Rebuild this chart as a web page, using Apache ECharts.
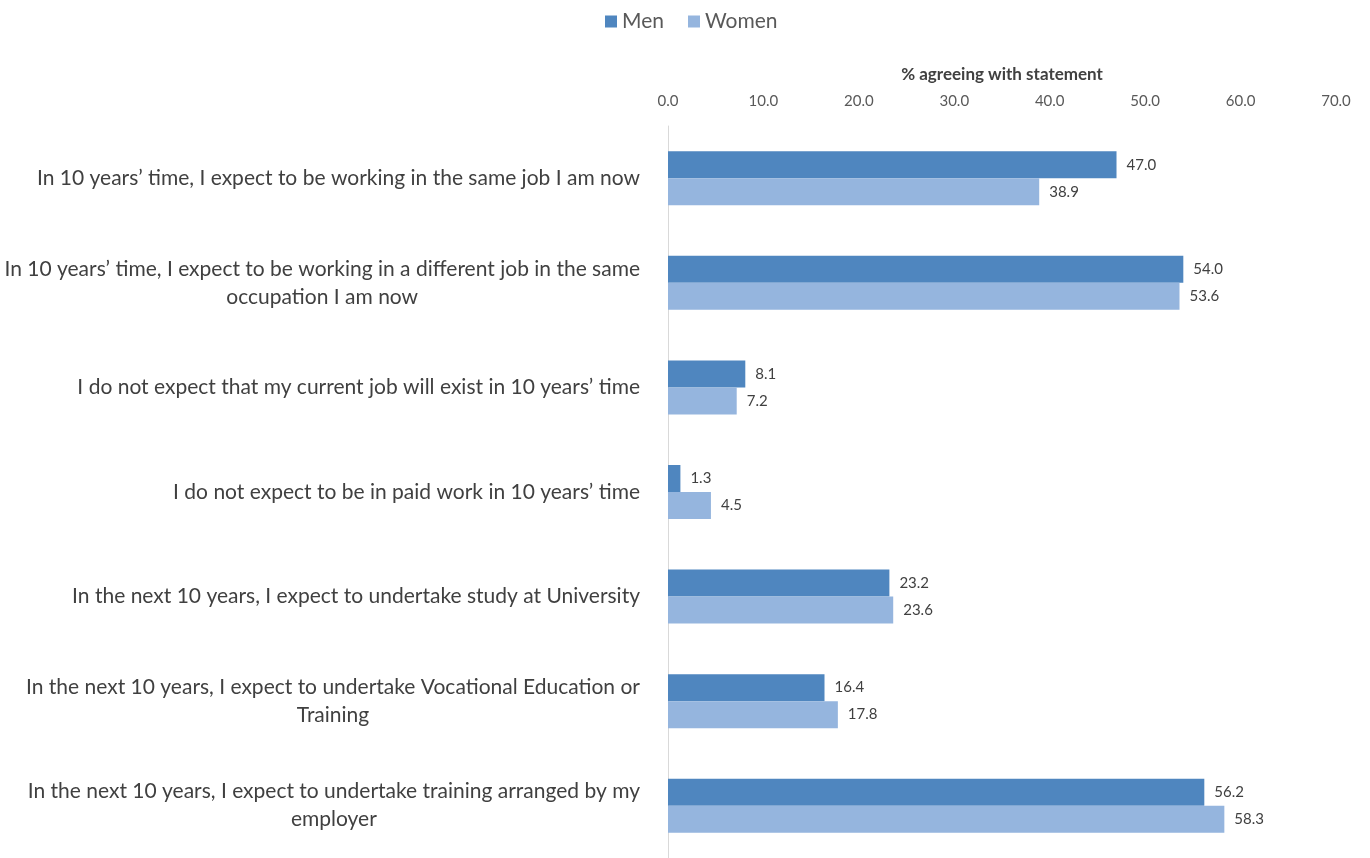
<!DOCTYPE html>
<html>
<head>
<meta charset="utf-8">
<style>
  html, body { margin: 0; padding: 0; background: #ffffff; }
  #chart { width: 1370px; height: 858px; }
</style>
<script src="https://cdn.jsdelivr.net/npm/echarts@6/dist/echarts.min.js"></script>
</head>
<body>
<div id="chart"></div>
<script>
// Survey statements (top to bottom)
const statements = [
  "In 10 years\u2019 time, I expect to be working in the same job I am now",
  "In 10 years\u2019 time, I expect to be working in a different job in the same\noccupation I am now",
  "I do not expect that my current job will exist in 10 years\u2019 time",
  "I do not expect to be in paid work in 10 years\u2019 time",
  "In the next 10 years, I expect to undertake study at University",
  "In the next 10 years, I expect to undertake Vocational Education or\nTraining",
  "In the next 10 years, I expect to undertake training arranged by my\nemployer"
];

// % agreeing with each statement
const men   = [47.0, 54.0, 8.1, 1.3, 23.2, 16.4, 56.2];
const women = [38.9, 53.6, 7.2, 4.5, 23.6, 17.8, 58.3];

const seriesNames = ["Men", "Women"];
const axisName = "% agreeing with statement";

const FONT = "Lato, 'Open Sans', sans-serif";

const chart = echarts.init(document.getElementById('chart'));

// Lines of a wrapped label are centred on each other, block sits right-aligned
function categoryLabel(value) {
  return value.split('\n').map(function (line) { return '{c|' + line + '}'; }).join('\n');
}

const barLabel = {
  show: true,
  position: 'right',
  distance: 10,
  color: '#404040',
  fontFamily: FONT,
  fontSize: 15,
  formatter: function (p) { return p.value.toFixed(1); }
};

chart.setOption({
  animation: false,
  backgroundColor: '#ffffff',
  legend: {
    top: 6,
    left: 600,
    itemWidth: 12,
    itemHeight: 12,
    itemGap: 24,
    icon: 'rect',
    textStyle: { color: '#595959', fontSize: 21, fontFamily: FONT },
    data: seriesNames
  },
  grid: {
    left: 668,
    right: 34,
    top: 126,
    height: 742,
    containLabel: false
  },
  xAxis: {
    type: 'value',
    position: 'top',
    min: 0,
    max: 70,
    interval: 10,
    name: axisName,
    nameLocation: 'middle',
    nameGap: 43,
    nameTextStyle: { color: '#404040', fontSize: 17, fontWeight: 'bold', fontFamily: FONT },
    axisLine: { show: false },
    axisTick: { show: false },
    splitLine: { show: false },
    axisLabel: {
      color: '#595959',
      fontSize: 15,
      fontFamily: FONT,
      margin: 17,
      formatter: function (v) { return v.toFixed(1); }
    }
  },
  yAxis: {
    type: 'category',
    inverse: true,
    data: statements,
    axisLine: { show: true, lineStyle: { color: '#d9d9d9', width: 1 } },
    axisTick: { show: false },
    axisLabel: {
      margin: 28,
      align: 'right',
      color: '#404040',
      fontSize: 21,
      fontFamily: FONT,
      lineHeight: 28,
      formatter: categoryLabel,
      rich: {
        c: { align: 'center', color: '#404040', fontSize: 21, fontFamily: FONT, lineHeight: 28 }
      }
    }
  },
  series: [
    {
      name: seriesNames[0],
      type: 'bar',
      data: men,
      barWidth: 27,
      barGap: '0%',
      itemStyle: { color: '#4F86BF' },
      label: barLabel
    },
    {
      name: seriesNames[1],
      type: 'bar',
      data: women,
      barWidth: 27,
      barGap: '0%',
      itemStyle: { color: '#95B5DE' },
      label: barLabel
    }
  ]
});
</script>
</body>
</html>
